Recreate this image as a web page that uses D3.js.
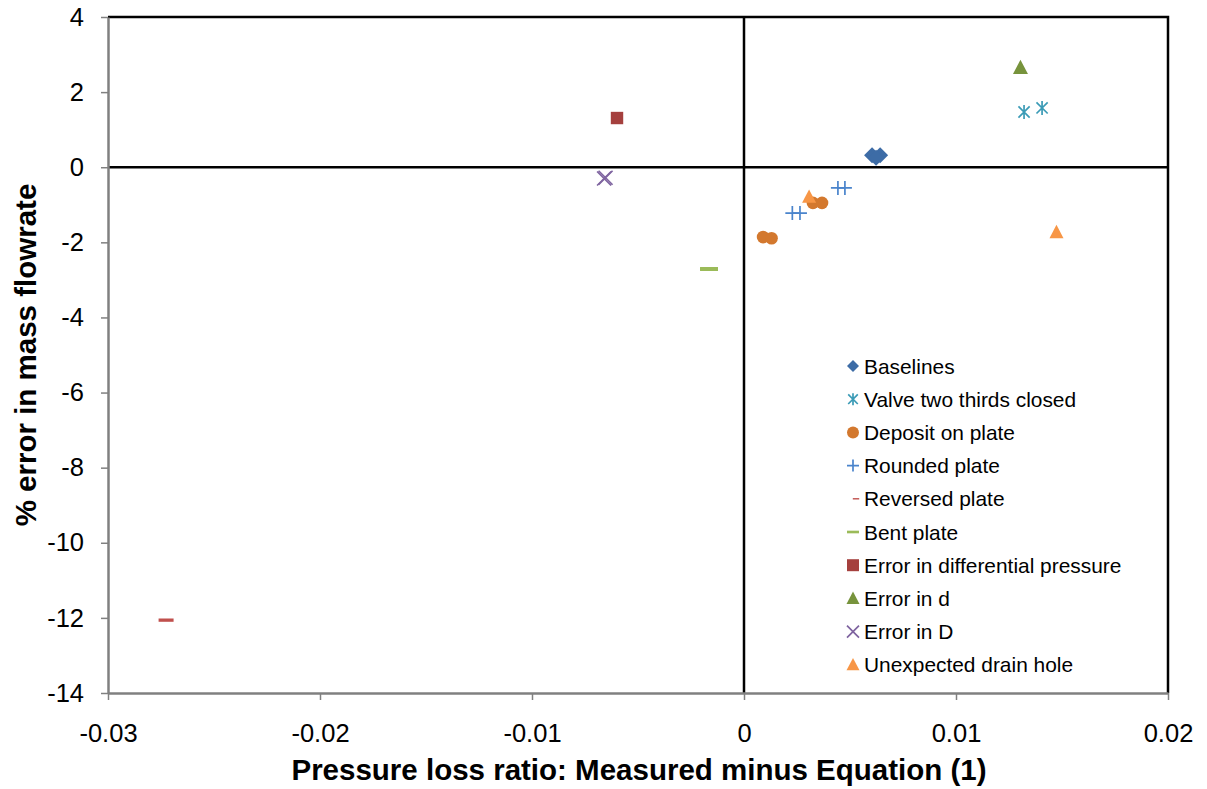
<!DOCTYPE html>
<html>
<head>
<meta charset="utf-8">
<script src="https://cdn.jsdelivr.net/npm/d3@7"></script>
<style>
  html, body { margin: 0; padding: 0; background: #fff; }
  svg { display: block; font-family: "Liberation Sans", Arial, sans-serif; }
</style>
</head>
<body>
<svg id="chart" width="1207" height="789"></svg>
<script>
// Series: [pressure loss ratio difference, % error in mass flowrate]
const baselines = [[0.00604, 0.32], [0.00642, 0.32], [0.00623, 0.25]];
const valveTwoThirds = [[0.01321, 1.47], [0.01406, 1.58]];
const depositOnPlate = [[0.00090, -1.86], [0.00130, -1.89], [0.00325, -0.95], [0.00368, -0.95]];
const roundedPlate = [[0.00228, -1.22], [0.00264, -1.22], [0.00443, -0.55], [0.00476, -0.55]];
const reversedPlate = [[-0.02726, -12.06]];
const bentPlate = [[-0.00165, -2.71]];
const errorDiffPressure = [[-0.00599, 1.31]];
const errorInSmallD = [[0.01304, 2.65]];
const errorInBigD = [[-0.00653, -0.28], [-0.00660, -0.30]];
const drainHole = [[0.00307, -0.79], [0.01474, -1.73]];

const xTicks = [-0.03, -0.02, -0.01, 0, 0.01, 0.02];
const yTicks = [4, 2, 0, -2, -4, -6, -8, -10, -12, -14];

const xTitle = "Pressure loss ratio: Measured minus Equation (1)";
const yTitle = "% error in mass flowrate";

// Marker path builders (centered at 0,0)
const shapes = {
  diamond: s => `M0,${-s}L${s},0L0,${s}L${-s},0Z`,
  square: s => `M${-s},${-s}H${s}V${s}H${-s}Z`,
  triangle: s => `M0,${-s * 1.05}L${s},${s * 0.85}L${-s},${s * 0.85}Z`,
  circle: s => `M${s},0A${s},${s} 0 1,1 ${-s},0A${s},${s} 0 1,1 ${s},0Z`,
  plus: s => `M${-s},0H${s}M0,${-s}V${s}`,
  cross: s => `M${-s},${-s}L${s},${s}M${s},${-s}L${-s},${s}`,
  star: s => `M${-s * 0.8},${-s * 0.8}L${s * 0.8},${s * 0.8}M${s * 0.8},${-s * 0.8}L${-s * 0.8},${s * 0.8}M0,${-s}V${s}`,
  dash: s => `M${-s},${-s * 0.22}H${s}V${s * 0.22}H${-s}Z`
};

const series = [
  { name: "Baselines", data: baselines, shape: "diamond", color: "#3d6ca6", size: 8, legendSize: 6, fill: true },
  { name: "Valve two thirds closed", data: valveTwoThirds, shape: "star", color: "#3b9bb6", size: 7, legendSize: 6, fill: false },
  { name: "Deposit on plate", data: depositOnPlate, shape: "circle", color: "#d3782e", size: 6.3, legendSize: 6, fill: true },
  { name: "Rounded plate", data: roundedPlate, shape: "plus", color: "#4a84cc", size: 7, legendSize: 6, fill: false },
  { name: "Reversed plate", data: reversedPlate, shape: "dash", color: "#c0504d", size: 7.5, legendSize: 3.2, fill: true },
  { name: "Bent plate", data: bentPlate, shape: "dash", color: "#9bbb59", size: 9, legendSize: 6, fill: true },
  { name: "Error in differential pressure", data: errorDiffPressure, shape: "square", color: "#a5403e", size: 6.2, legendSize: 6, fill: true },
  { name: "Error in d", data: errorInSmallD, shape: "triangle", color: "#77933c", size: 7.5, legendSize: 6.5, fill: true },
  { name: "Error in D", data: errorInBigD, shape: "cross", color: "#7f64a0", size: 7, legendSize: 6, fill: false },
  { name: "Unexpected drain hole", data: drainHole, shape: "triangle", color: "#f79646", size: 7, legendSize: 6.5, fill: true }
];

const svg = d3.select("#chart");
const plot = { left: 108, right: 1168, top: 17, bottom: 693 };

const x = d3.scaleLinear().domain([-0.03, 0.02]).range([plot.left, plot.right]);
const y = d3.scaleLinear().domain([-14, 4]).range([plot.bottom, plot.top]);

// Frame: top and right edges black
svg.append("path")
  .attr("d", `M${plot.left},${plot.top}H${plot.right}V${plot.bottom}`)
  .attr("fill", "none").attr("stroke", "#000").attr("stroke-width", 2.5);

// Zero lines
svg.append("line")
  .attr("x1", plot.left).attr("x2", plot.right)
  .attr("y1", y(0)).attr("y2", y(0))
  .attr("stroke", "#000").attr("stroke-width", 2.5);
svg.append("line")
  .attr("x1", x(0)).attr("x2", x(0))
  .attr("y1", plot.top).attr("y2", plot.bottom)
  .attr("stroke", "#000").attr("stroke-width", 2.5);

// Axes
const fmtX = d => d === 0 ? "0" : d3.format(".2f")(d).replace("−", "-");
const xAxis = svg.append("g")
  .attr("transform", `translate(0,${plot.bottom})`)
  .call(d3.axisBottom(x).tickValues(xTicks).tickSize(7).tickSizeOuter(0).tickPadding(24).tickFormat(fmtX));
const yAxis = svg.append("g")
  .attr("transform", `translate(${plot.left},0)`)
  .call(d3.axisLeft(y).tickValues(yTicks).tickSize(7).tickSizeOuter(0).tickPadding(17).tickFormat(d => String(d)));

[xAxis, yAxis].forEach(g => {
  g.select(".domain").attr("stroke", "#808080").attr("stroke-width", 2.5);
  g.selectAll(".tick line").attr("stroke", "#808080").attr("stroke-width", 1.5);
  g.selectAll(".tick text").attr("fill", "#000").style("font-size", "25.5px")
    .style("font-family", '"Liberation Sans", Arial, sans-serif');
});

// Axis titles
svg.append("text")
  .attr("x", 639).attr("y", 780)
  .attr("text-anchor", "middle")
  .style("font-size", "29.5px").style("font-weight", "bold")
  .text(xTitle);
svg.append("text")
  .attr("transform", `translate(36,355) rotate(-90)`)
  .attr("text-anchor", "middle")
  .style("font-size", "29.5px").style("font-weight", "bold")
  .text(yTitle);

// Markers
function drawMarker(g, s, size) {
  const p = g.append("path").attr("d", shapes[s.shape](size));
  if (s.fill) {
    p.attr("fill", s.color).attr("stroke", "none");
  } else {
    p.attr("fill", "none").attr("stroke", s.color).attr("stroke-width", 1.7);
  }
  return p;
}

series.forEach(s => {
  const g = svg.append("g");
  s.data.forEach(d => {
    const m = g.append("g").attr("transform", `translate(${x(d[0])},${y(d[1])})`);
    drawMarker(m, s, s.size);
  });
});

// Legend
const legend = svg.append("g").attr("transform", "translate(853,366)");
series.forEach((s, i) => {
  const row = legend.append("g").attr("transform", `translate(0,${i * 33.2})`);
  const marker = row.append("g").attr("transform", s.shape === "dash" && s.legendSize < 4 ? "translate(3,0)" : null);
  drawMarker(marker, s, s.legendSize);
  row.append("text")
    .attr("x", 11).attr("y", 0).attr("dy", "0.36em")
    .style("font-size", "20.9px")
    .text(s.name);
});
</script>
</body>
</html>
